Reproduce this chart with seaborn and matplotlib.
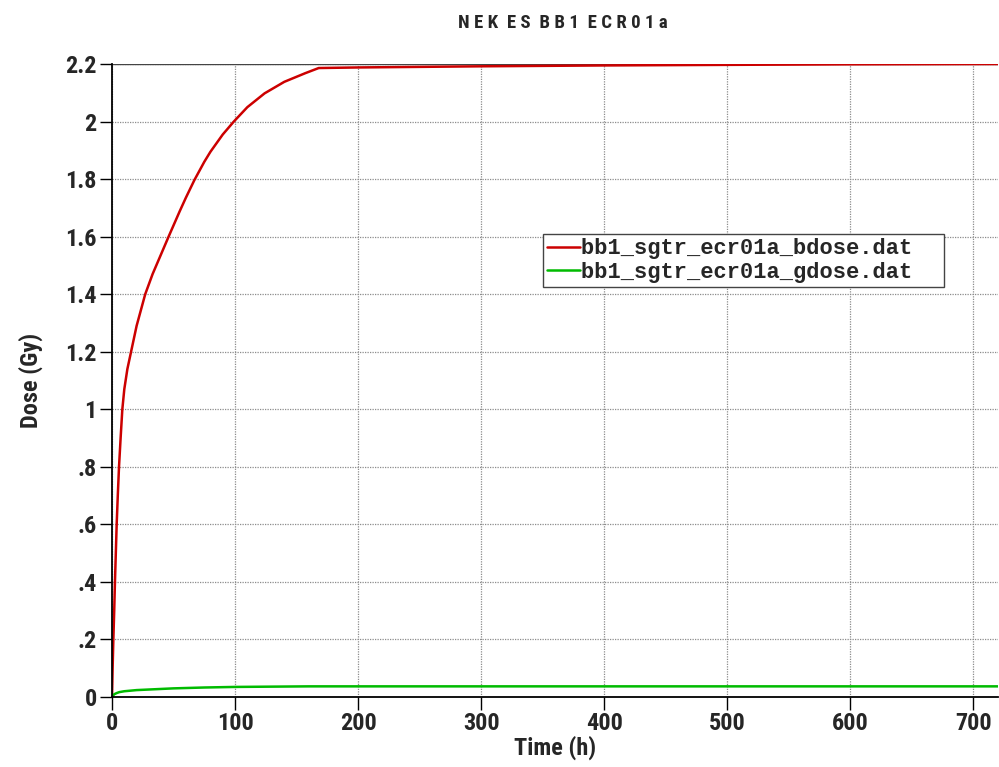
import matplotlib
matplotlib.use("Agg")
import matplotlib.pyplot as plt
import seaborn as sns
import pandas as pd
from matplotlib.ticker import FuncFormatter

# Data
time_bdose = [0, 0.5, 1.1, 1.8, 2.4, 3.1, 3.8, 4.7, 5.7, 7.0, 8.4, 10.0, 12.5, 15.5, 20, 27, 33, 40, 46, 55, 60, 67, 75, 80, 90, 99, 110, 124, 140, 157, 168, 200, 300, 400, 500, 600, 720]
dose_bdose = [0, 0.1, 0.2, 0.3, 0.4, 0.5, 0.6, 0.7, 0.8, 0.9, 1.0, 1.07, 1.14, 1.2, 1.29, 1.4, 1.47, 1.54, 1.6, 1.688, 1.735, 1.797, 1.86, 1.895, 1.955, 2.0, 2.05, 2.098, 2.138, 2.168, 2.186, 2.188, 2.192, 2.195, 2.197, 2.199, 2.2]
time_gdose = [0, 1, 2, 4, 6, 10, 15, 20, 30, 50, 75, 100, 130, 160, 200, 300, 400, 500, 600, 720]
dose_gdose = [0, 0.006, 0.01, 0.014, 0.017, 0.02, 0.022, 0.024, 0.026, 0.03, 0.033, 0.035, 0.036, 0.037, 0.037, 0.037, 0.037, 0.037, 0.037, 0.037]
series_names = ["bb1_sgtr_ecr01a_bdose.dat", "bb1_sgtr_ecr01a_gdose.dat"]
x_ticks = [0, 100, 200, 300, 400, 500, 600, 700]
y_ticks = [0, 0.2, 0.4, 0.6, 0.8, 1.0, 1.2, 1.4, 1.6, 1.8, 2.0, 2.2]

df = pd.concat([
    pd.DataFrame({"Time": time_bdose, "Dose": dose_bdose, "series": series_names[0]}),
    pd.DataFrame({"Time": time_gdose, "Dose": dose_gdose, "series": series_names[1]}),
], ignore_index=True)

sns.set_theme(style="white")
plt.rcParams["font.family"] = ["Roboto Condensed", "Encode Sans Semi Condensed", "Liberation Sans", "DejaVu Sans"]
tick_size, lab_size, title_size = 17.5, 17.5, 13.5

fig = plt.figure(figsize=(9.99, 7.67), dpi=100)
ax = fig.add_axes([112 / 999, 1 - 697 / 767, (998 - 112) / 999, (697 - 64) / 767])

palette = {series_names[0]: "#cc0000", series_names[1]: "#00bb00"}
sns.lineplot(data=df, x="Time", y="Dose", hue="series", palette=palette,
             linewidth=1.8, ax=ax, estimator=None, sort=False)

ax.set_xlim(0, 720)
ax.set_ylim(0, 2.2)
ax.set_xticks(x_ticks)
ax.set_yticks(y_ticks)

def yfmt(v, pos):
    s = ("%.1f" % v)
    if s.endswith(".0"):
        s = s[:-2]
    if s.startswith("0."):
        s = s[1:]
    return s

ax.yaxis.set_major_formatter(FuncFormatter(yfmt))

ax.grid(True, color="#8c8c8c", linestyle=(0, (1, 1)), linewidth=0.9)
ax.axhline(2.2, color="#444444", linewidth=1.0, zorder=1)
for side in ["top", "right"]:
    ax.spines[side].set_visible(False)
for side in ["left", "bottom"]:
    ax.spines[side].set_color("black")
    ax.spines[side].set_linewidth(1.3)

ax.tick_params(axis="both", which="major", direction="out", length=9, width=1,
               color="black", labelsize=tick_size, left=True, bottom=True, pad=2)
for lab in ax.get_xticklabels() + ax.get_yticklabels():
    lab.set_fontweight("bold")

ax.set_xlabel("Time (h)", fontsize=lab_size, fontweight="bold", labelpad=0)
ax.set_ylabel("Dose (Gy)", fontsize=lab_size, fontweight="bold", labelpad=16)

fig.text(0.563, 0.97, "N E K  E S  B B 1  E C R 0 1 a", ha="center", va="center",
         fontsize=title_size, fontweight="bold")

leg = ax.legend(loc="upper left", bbox_to_anchor=((543 - 112) / 886, (697 - 234) / 633),
                frameon=True, fancybox=False, edgecolor="#444444", framealpha=1,
                prop={"family": ["Liberation Mono", "DejaVu Sans Mono"], "weight": "bold", "size": 15.8},
                handlelength=1.5, handletextpad=0.05, borderpad=0.2, labelspacing=0.1,
                borderaxespad=0)
leg.get_frame().set_linewidth(1.0)
# widen the frame to the reference's right padding
for t in leg.get_texts():
    t.set_text(t.get_text() + "  ")

fig.savefig("out.png", dpi=100)
